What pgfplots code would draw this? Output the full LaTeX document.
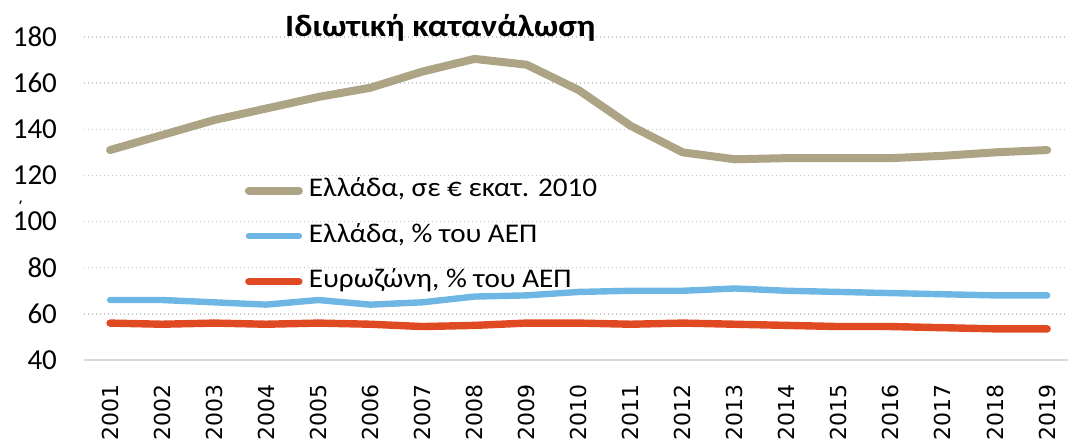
\documentclass[border=0pt]{standalone}
\usepackage{fontspec}
\setmainfont{Carlito}
\newfontfamily\dejavu{DejaVu Sans}
\newfontfamily\legfont[FakeStretch=1.08]{Carlito}
\newfontfamily\titfont[FakeStretch=1.1]{Carlito}
\usepackage{pgfplots}
\pgfplotsset{compat=1.18}
\definecolor{tanc}{HTML}{ADA385}
\definecolor{sky}{HTML}{6EB7E4}
\definecolor{ored}{HTML}{DF4A23}
\definecolor{gridc}{HTML}{C8C8C8}
\definecolor{axc}{HTML}{D9D9D9}

\pgfplotstableread{
year val
2001 131
2002 137.5
2003 144
2004 149
2005 154
2006 158
2007 165
2008 170.5
2009 168
2010 157
2011 141.5
2012 130
2013 127
2014 127.5
2015 127.5
2016 127.5
2017 128.5
2018 130
2019 131
}\grEur

\pgfplotstableread{
year val
2001 66
2002 66
2003 65
2004 64
2005 66
2006 64
2007 65
2008 67.5
2009 68
2010 69.5
2011 70
2012 70
2013 71
2014 70
2015 69.5
2016 69
2017 68.5
2018 68
2019 68
}\grGdp

\pgfplotstableread{
year val
2001 56
2002 55.5
2003 56
2004 55.5
2005 56
2006 55.5
2007 54.5
2008 55
2009 56
2010 56
2011 55.5
2012 56
2013 55.5
2014 55
2015 54.5
2016 54.5
2017 54
2018 53.5
2019 53.5
}\ezGdp

\begin{document}
\begin{tikzpicture}
\useasboundingbox (0,0) rectangle (534pt,219pt);
\begin{axis}[
  at={(42pt,39pt)}, anchor=south west,
  scale only axis, width=492pt, height=161.5pt,
  xmin=2000.5, xmax=2019.4, ymin=40, ymax=180,
  ytick={40,60,...,180},
  xtick={2001,...,2019},
  clip=false,
  axis x line=bottom, axis y line=left,
  x axis line style={axc, line width=1pt, -},
  y axis line style={draw=none},
  major tick length=0pt,
  tick style={draw=none},
  ymajorgrids,
  grid style={gridc, line width=0.7pt, dash pattern=on 0.7pt off 1.3pt},
  /pgf/number format/assume math mode=true,
  /pgf/number format/1000 sep={},
  yticklabel style={font=\fontsize{14.5}{16}\selectfont, anchor=east, xshift=-10pt},
  xticklabel style={font=\dejavu\fontsize{11}{13}\selectfont, rotate=90, anchor=east},
  xticklabel shift=8.5pt,
  legend style={at={(0.157,0.575)}, anchor=north west, draw=none, fill=none,
    font=\legfont\fontsize{13.5}{15}\selectfont,
    nodes={inner sep=0.5pt, text height=8.5pt, text depth=2.5pt},
    row sep=10.75pt,
    /tikz/every odd column/.append style={column sep=2.5pt}},
  legend cell align=left,
  legend image code/.code={\draw[#1, line cap=round] (0pt,0pt) -- (25pt,0pt);},
  every axis plot/.append style={line cap=round, line join=round},
]
\addplot[tanc, line width=4pt] table[x=year,y=val] {\grEur};
\addlegendentry{Ελλάδα, σε € εκατ. 2010}
\addplot[sky, line width=3.2pt] table[x=year,y=val] {\grGdp};
\addlegendentry{Ελλάδα, \% του ΑΕΠ}
\addplot[ored, line width=3.7pt] table[x=year,y=val] {\ezGdp};
\addlegendentry{Ευρωζώνη, \% του ΑΕΠ}
\node[font=\titfont\bfseries\fontsize{15.5}{17}\selectfont, anchor=base] at (rel axis cs:0.362,1.0) {Ιδιωτική κατανάλωση};
\end{axis}
\node[font=\fontsize{11}{12}\selectfont, inner sep=0pt, anchor=base] at (10pt,110.5pt) {\smash{΄}};
\end{tikzpicture}
\end{document}
